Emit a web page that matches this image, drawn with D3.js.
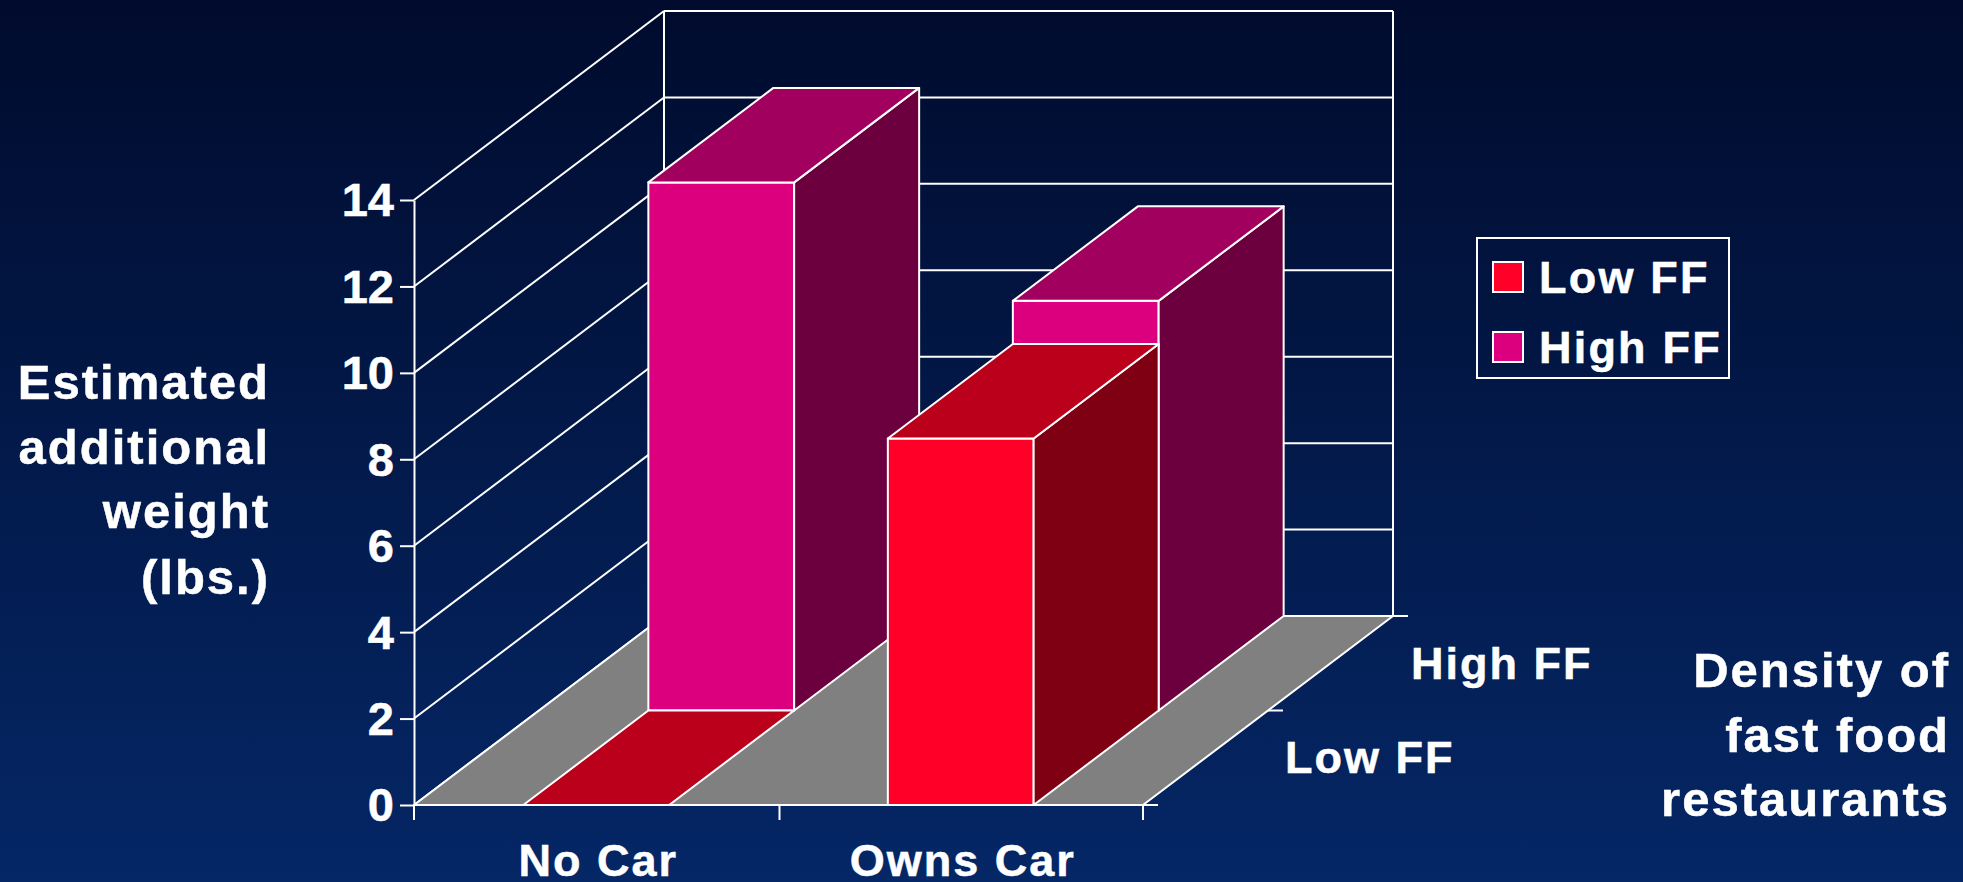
<!DOCTYPE html>
<html><head><meta charset="utf-8">
<script src="https://cdnjs.cloudflare.com/ajax/libs/d3/7.8.5/d3.min.js"></script>
<style>html,body{margin:0;padding:0;background:#021a4a;overflow:hidden}
text{font-family:"Liberation Sans",Arial,sans-serif;font-weight:bold;fill:#fff;stroke:#fff;stroke-width:0.5px}</style>
</head><body><svg id="c" width="1963" height="882"></svg>
<script>
const categories = ["No Car","Owns Car"];
const seriesNames = ["Low FF","High FF"];
const lowFF = [0, 8.48];
const highFF = [12.22, 9.48];
const yTicks = [0,2,4,6,8,10,12,14];
const yTitle = ["Estimated","additional","weight","(lbs.)"];
const depthTitle = ["Density of","fast food","restaurants"];
const seriesColors = {"Low FF":{front:"#ff0029",side:"#7f0012",top:"#bb001c"},"High FF":{front:"#dc007e",side:"#6c003f",top:"#a2005f"}};

const svg = d3.select("#c");
const defs = svg.append("defs");
const g = defs.append("linearGradient").attr("id","bg").attr("x1",0).attr("y1",0).attr("x2",0).attr("y2",1);
g.append("stop").attr("offset",0).attr("stop-color","#000b2d");
g.append("stop").attr("offset",1).attr("stop-color","#052766");
svg.append("rect").attr("width",1963).attr("height",882).attr("fill","url(#bg)");

const x = d3.scaleBand().domain(categories).range([414,1143]).paddingInner(0.6).paddingOuter(0.3);
const xOuter = d3.scaleBand().domain(categories).range([414,1143]);
const y = d3.scaleLinear().domain([0,14]).range([805,200]);
const depth = d3.scaleBand().domain(seriesNames).range([0,1]);
const DX = 250, DY = -189;
const P = (px,v,d)=>[px+d*DX, y(v)+d*DY];
const line = d3.line();
const W = 2;
const stroke = "#fff";

function poly(pts,fill){svg.append("path").attr("d",line(pts)+"Z").attr("fill",fill).attr("stroke",stroke).attr("stroke-width",W).attr("stroke-linejoin","round");}
function seg(a,b,w){svg.append("line").attr("x1",a[0]).attr("y1",a[1]).attr("x2",b[0]).attr("y2",b[1]).attr("stroke",stroke).attr("stroke-width",w||W);}

const x0=414,x1=1143;
yTicks.forEach(t=>{
  seg(P(x0,t,0),P(x0,t,1));
  seg(P(x0,t,1),P(x1,t,1));
});
seg(P(x0,0,1),P(x0,14,1));
seg(P(x1,0,1),P(x1,14,1));
poly([P(x0,0,0),P(x1,0,0),P(x1,0,1),P(x0,0,1)],"#808080");

const ax = svg.append("g").attr("transform","translate(414,0)")
  .call(d3.axisLeft(y).tickValues(yTicks).tickSize(14).tickSizeOuter(0).tickPadding(6).tickFormat(d3.format("d")));
ax.selectAll("line,path").attr("stroke",stroke).attr("stroke-width",W);
ax.selectAll("text").attr("font-size",47).style("fill","#fff").attr("dy","0.34em");
ax.attr("font-family",null).attr("font-size",null);

[x0,x0+xOuter.step()+1,x1].forEach(t=>seg([t,805],[t,820]));
[0,0.5,1].forEach(d=>{const p=P(x1,0,d);seg(p,[p[0]+15,p[1]]);});

function bar(cat,val,name){
  const c=seriesColors[name], xl=x(cat), xr=xl+x.bandwidth();
  const d0=depth(name), d1=d0+depth.bandwidth();
  if(val>0){
    poly([P(xl,0,d0),P(xr,0,d0),P(xr,val,d0),P(xl,val,d0)],c.front);
    poly([P(xr,0,d0),P(xr,0,d1),P(xr,val,d1),P(xr,val,d0)],c.side);
  }
  poly([P(xl,val,d0),P(xr,val,d0),P(xr,val,d1),P(xl,val,d1)],c.top);
}
categories.forEach((cat,i)=>bar(cat,highFF[i],"High FF"));
categories.forEach((cat,i)=>bar(cat,lowFF[i],"Low FF"));

function txt(s,px,py,anchor,size,ls){
  return svg.append("text").attr("x",px).attr("y",py).attr("text-anchor",anchor||"start")
    .attr("font-size",size||47).style("letter-spacing",(ls===undefined?2:ls)+"px").text(s);
}
categories.forEach(c=>txt(c,xOuter(c)+xOuter.bandwidth()/2+2,876,"middle",45,2));
txt("High FF",1411,679,"start",45,2);
txt("Low FF",1285,773,"start",45,2);
[399,464,528,594].forEach((b,i)=>txt(yTitle[i],270,b,"end",49,2));
[687,752,816].forEach((b,i)=>txt(depthTitle[i],1950,b,"end",49,2));

svg.append("rect").attr("x",1477).attr("y",238).attr("width",252).attr("height",140).attr("fill","none").attr("stroke",stroke).attr("stroke-width",W);
seriesNames.forEach((n,i)=>{
  const yy=262+i*70;
  svg.append("rect").attr("x",1493).attr("y",yy).attr("width",30).attr("height",30).attr("fill",seriesColors[n].front).attr("stroke",stroke).attr("stroke-width",W);
  txt(n,1539,yy+31,"start",45,2.2);
});
</script></body></html>
